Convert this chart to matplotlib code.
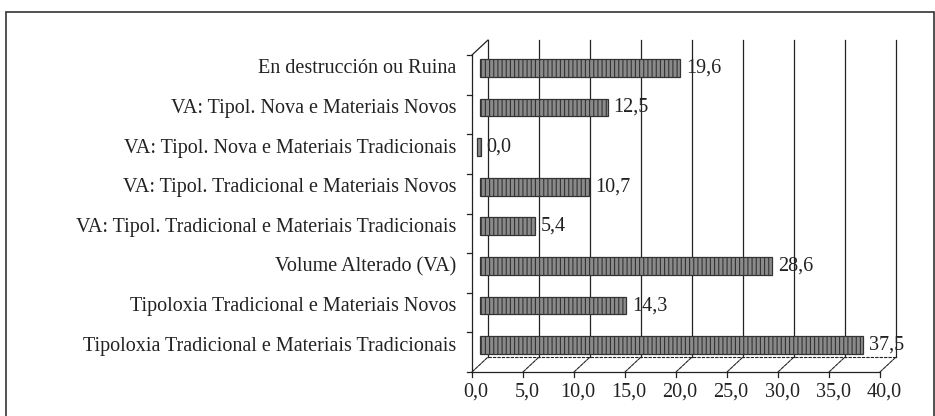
import matplotlib
matplotlib.use("Agg")
import matplotlib.pyplot as plt
from matplotlib.transforms import ScaledTranslation
from matplotlib.patches import Rectangle

# data, bottom to top
categories = [
    "Tipoloxia Tradicional e Materiais Tradicionais",
    "Tipoloxia Tradicional e Materiais Novos",
    "Volume Alterado (VA)",
    "VA: Tipol. Tradicional e Materiais Tradicionais",
    "VA: Tipol. Tradicional e Materiais Novos",
    "VA: Tipol. Nova e Materiais Tradicionais",
    "VA: Tipol. Nova e Materiais Novos",
    "En destrucción ou Ruina",
]
values = [37.5, 14.3, 28.6, 5.4, 10.7, 0.0, 12.5, 19.6]
xticks = [0, 5, 10, 15, 20, 25, 30, 35, 40]

plt.rcParams['font.family'] = ['Liberation Serif', 'DejaVu Serif']
plt.rcParams['hatch.linewidth'] = 0.8
plt.rcParams['hatch.color'] = '#c8c8c8'

W, H = 935, 416
fig = plt.figure(figsize=(W / 100, H / 100), dpi=100)

# outer frame
fig.patches.append(Rectangle((6 / W, -0.01), (W - 7) / W, (H - 12) / H + 0.01,
                             transform=fig.transFigure, fill=False,
                             edgecolor='#333333', lw=1.2))

ax = fig.add_axes([472 / W, 44 / H, 408 / W, 317 / H])
ax.set_xlim(0, 40)
ax.set_ylim(-0.5, 7.5)
ax.axis('off')

back = ax.transData + ScaledTranslation(0.16, 0.15, fig.dpi_scale_trans)
mid = ax.transData + ScaledTranslation(0.08, 0.07, fig.dpi_scale_trans)
kw = dict(color='#222222', lw=0.9, clip_on=False, zorder=1)
fs = 14.5
tc = '#222222'

# back wall gridlines
for x in xticks:
    ax.plot([x, x], [-0.5, 7.5], transform=back, **kw)
# floor: front edge, back edge, depth lines
ax.plot([0, 40], [-0.5, -0.5], **kw)
ax.plot([0, 40], [-0.5, -0.5], transform=back, color='#222222', lw=0.8,
        ls=(0, (3, 1)), clip_on=False)
for x in xticks:
    ax.annotate("", xy=(x, -0.5), xycoords=back, xytext=(x, -0.5),
                textcoords='data',
                arrowprops=dict(arrowstyle='-', color='#222222', lw=0.8,
                                ls=(0, (3, 1)), shrinkA=0, shrinkB=0))
    ax.plot([x, x], [-0.5, -0.62], **kw)
    ax.text(x + 0.4, -1.0, f"{x:.1f}".replace(".", ","), ha='center',
            va='center', fontsize=fs, color=tc)
# left wall
ax.plot([0, 0], [-0.5, 7.5], **kw)
ax.annotate("", xy=(0, 7.5), xycoords=back, xytext=(0, 7.5), textcoords='data',
            arrowprops=dict(arrowstyle='-', color='#222222', lw=0.9,
                            shrinkA=0, shrinkB=0))
for b in range(9):
    ax.plot([-0.5, 0], [b - 0.5, b - 0.5], **kw)

# bars
for i, (cat, v) in enumerate(zip(categories, values)):
    ax.barh(i, max(v, 0.35), height=0.45, left=-0.3 if v == 0 else 0,
            transform=mid, facecolor='#8a8a8a', hatch='||||',
            edgecolor='#333333', lw=0.9, clip_on=False, zorder=3)
    ax.text(v + 0.6, i, f"{v:.1f}".replace(".", ","), transform=mid,
            ha='left', va='center', fontsize=fs, color=tc, zorder=4)
    ax.text(-1.5, i + 0.15, cat, ha='right', va='center', fontsize=fs,
            color=tc)

fig.savefig("out.png", dpi=100)
